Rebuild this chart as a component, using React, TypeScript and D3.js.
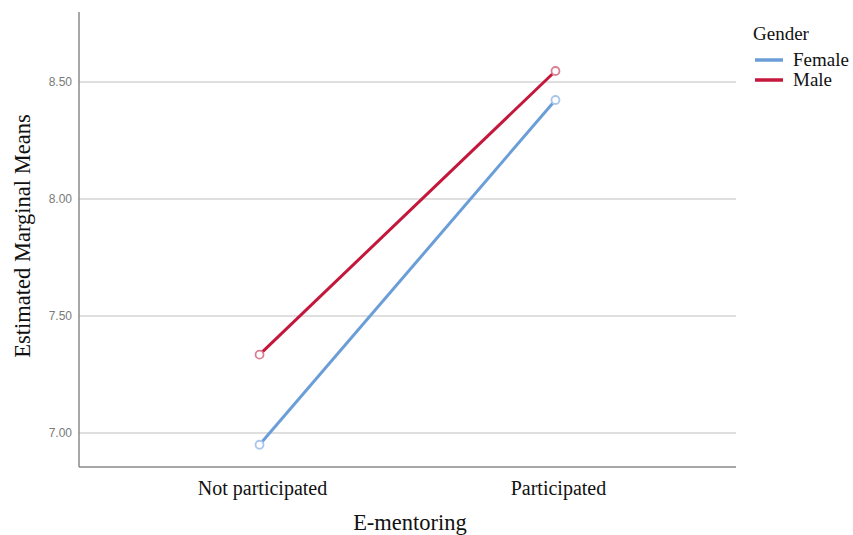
import React from "react";
import * as d3 from "d3";

const categories = ["Not participated", "Participated"];
const femaleMeans = [6.95, 8.423];
const maleMeans = [7.335, 8.547];
const yTicks = [7.0, 7.5, 8.0, 8.5];
const seriesNames = ["Female", "Male"];
const seriesColors = ["#6b9ed8", "#c4173c"];
const markerColors = ["#a9c6ea", "#dc7e92"];

const W = 853;
const H = 535;
const X0 = 79;
const X1 = 736;
const YTOP = 12;
const YBOT = 467;

export default function App() {
  const x = d3.scalePoint<string>().domain(categories).range([X0, X1]).padding(0.61);
  const y = d3.scaleLinear().domain([6.855, 8.799]).range([YBOT, YTOP]);
  const line = d3
    .line<number>()
    .x((_, i) => x(categories[i]) as number)
    .y((v) => y(v));
  const series = [femaleMeans, maleMeans];
  const serif = "'Liberation Serif', 'Times New Roman', serif";

  return (
    <svg
      width={W}
      height={H}
      style={{ position: "absolute", left: 0, top: 0, background: "#fff" }}
    >
      {/* gridlines */}
      {yTicks.map((t) => (
        <line
          key={"g" + t}
          x1={X0}
          x2={X1}
          y1={y(t)}
          y2={y(t)}
          stroke="#d4d4d4"
          strokeWidth={1.5}
        />
      ))}
      {/* tick labels */}
      {yTicks.map((t) => (
        <text
          key={"t" + t}
          x={72}
          y={y(t)}
          dy="0.35em"
          textAnchor="end"
          fontFamily="'Liberation Sans', Arial, sans-serif"
          fontSize={12}
          fill="#7a7a7a"
        >
          {d3.format(".2f")(t)}
        </text>
      ))}
      {/* axes */}
      <line x1={X0} x2={X0} y1={YTOP} y2={YBOT} stroke="#8a8a8a" strokeWidth={1.5} />
      <line x1={X0} x2={X1} y1={YBOT} y2={YBOT} stroke="#8a8a8a" strokeWidth={1.5} />
      {/* category labels */}
      {categories.map((c) => (
        <text
          key={c}
          x={(x(c) as number) + 3}
          y={495}
          textAnchor="middle"
          fontFamily={serif}
          fontSize={20}
          fill="#111"
        >
          {c}
        </text>
      ))}
      {/* axis titles */}
      <text
        x={410}
        y={530}
        textAnchor="middle"
        fontFamily={serif}
        fontSize={22.5}
        fill="#111"
      >
        E-mentoring
      </text>
      <text
        transform={`translate(30,236) rotate(-90)`}
        textAnchor="middle"
        fontFamily={serif}
        fontSize={22.5}
        fill="#111"
      >
        Estimated Marginal Means
      </text>
      {/* lines */}
      {series.map((s, i) => (
        <path
          key={"l" + i}
          d={line(s) as string}
          fill="none"
          stroke={seriesColors[i]}
          strokeWidth={3}
        />
      ))}
      {/* markers */}
      {series.map((s, i) =>
        s.map((v, j) => (
          <circle
            key={"m" + i + "-" + j}
            cx={x(categories[j]) as number}
            cy={y(v)}
            r={4}
            fill="#fff"
            stroke={markerColors[i]}
            strokeWidth={1.8}
          />
        ))
      )}
      {/* legend */}
      <text x={753} y={40} fontFamily={serif} fontSize={19} fill="#111">
        Gender
      </text>
      {seriesNames.map((n, i) => (
        <g key={n}>
          <line
            x1={755}
            x2={783}
            y1={60 + i * 20}
            y2={60 + i * 20}
            stroke={seriesColors[i]}
            strokeWidth={3.5}
          />
          <text
            x={793}
            y={60 + i * 20}
            dy="0.33em"
            fontFamily={serif}
            fontSize={19}
            fill="#111"
          >
            {n}
          </text>
        </g>
      ))}
    </svg>
  );
}
